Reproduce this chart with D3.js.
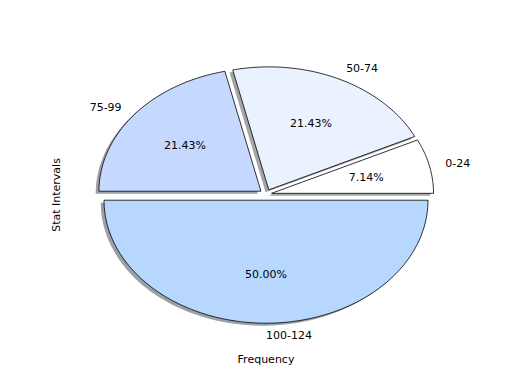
<!DOCTYPE html>
<html>
	<head>
		<meta charset="utf-8" />
		<title>Stat Intervals pie</title>
		<style>
			body { margin: 0; background: #fff; }
			#chart svg text { font-family: "DejaVu Sans", sans-serif; font-size: 11px; fill: #000; }
		</style>
	</head>
	<body>
		<div id="chart"></div>
		<script src="https://cdnjs.cloudflare.com/ajax/libs/d3/7.8.5/d3.min.js"></script>
		<script>
			var categories = ["0-24", "50-74", "75-99", "100-124"];
			var counts = [1, 3, 3, 7];
			var colors = ["#ffffff", "#eaf2ff", "#c5d9ff", "#b7d7ff"];
			var explode = [0.035, 0.04, 0.04, 0.048];
			var xLabel = "Frequency";
			var yLabel = "Stat Intervals";

			!(function(){
				var width = 520, height = 390;
				var cx = 266, cy = 194.3, rx = 162, ry = 123;

				var svg = d3.select("#chart").append("svg")
					.attr("width", width)
					.attr("height", height);

				// data units -> pixels (pie of radius 1, like matplotlib's pie axes)
				var x = d3.scaleLinear().domain([-1.25, 1.25]).range([cx - 1.25 * rx, cx + 1.25 * rx]);
				var y = d3.scaleLinear().domain([-1.25, 1.25]).range([cy + 1.25 * ry, cy - 1.25 * ry]);

				// counter-clockwise from 3 o'clock
				var pie = d3.pie().sort(null)
					.startAngle(Math.PI / 2)
					.endAngle(Math.PI / 2 - 2 * Math.PI);
				var arcs = pie(counts).map(function(d, i){
					var t0 = Math.PI / 2 - d.startAngle, t1 = Math.PI / 2 - d.endAngle;
					var tm = (t0 + t1) / 2;
					return {
						i: i, t0: t0, t1: t1, tm: tm,
						ox: explode[i] * Math.cos(tm),
						oy: explode[i] * Math.sin(tm),
						value: d.value
					};
				});
				var total = d3.sum(counts);

				function wedgePts(a, dx, dy) {
					var n = Math.max(8, Math.ceil((a.t1 - a.t0) / 0.02));
					var pts = [[a.ox + dx, a.oy + dy]];
					d3.range(n + 1).forEach(function(k){
						var t = a.t0 + (a.t1 - a.t0) * k / n;
						pts.push([a.ox + dx + Math.cos(t), a.oy + dy + Math.sin(t)]);
					});
					return pts;
				}
				var line = d3.line()
					.x(function(p){ return x(p[0]); })
					.y(function(p){ return y(p[1]); });

				function shade(c) {
					var r = d3.rgb(c);
					return d3.rgb(r.r * 0.3, r.g * 0.3, r.b * 0.3).toString();
				}

				// shadows below every wedge
				svg.append("g").selectAll("path")
					.data(arcs)
					.enter().append("path")
					.attr("d", function(a){ return line(wedgePts(a, -0.02, -0.02)) + "Z"; })
					.attr("fill", function(a){ return shade(colors[a.i]); })
					.attr("fill-opacity", 0.5)
					.attr("stroke", "none");

				svg.append("g").selectAll("path")
					.data(arcs)
					.enter().append("path")
					.attr("d", function(a){ return line(wedgePts(a, 0, 0)) + "Z"; })
					.attr("fill", function(a){ return colors[a.i]; })
					.attr("stroke", "#000")
					.attr("stroke-width", 0.8)
					.attr("stroke-linejoin", "miter");

				// category labels
				svg.append("g").selectAll("text")
					.data(arcs)
					.enter().append("text")
					.attr("x", function(a){ return x(a.ox + 1.1 * Math.cos(a.tm)); })
					.attr("y", function(a){ return y(a.oy + 1.1 * Math.sin(a.tm)); })
					.attr("dy", "0.35em")
					.attr("text-anchor", function(a){ return Math.cos(a.tm) < -1e-6 ? "end" : "start"; })
					.text(function(a){ return categories[a.i]; });

				// percentages
				svg.append("g").selectAll("text")
					.data(arcs)
					.enter().append("text")
					.attr("x", function(a){ return x(a.ox + 0.6 * Math.cos(a.tm)); })
					.attr("y", function(a){ return y(a.oy + 0.6 * Math.sin(a.tm)); })
					.attr("dy", "0.35em")
					.attr("text-anchor", "middle")
					.text(function(a){ return (100 * a.value / total).toFixed(2) + "%"; });

				svg.append("text")
					.attr("x", 266)
					.attr("y", 363)
					.attr("text-anchor", "middle")
					.text(xLabel);

				svg.append("text")
					.attr("transform", "translate(60,195) rotate(-90)")
					.attr("text-anchor", "middle")
					.text(yLabel);
			}());
		</script>
	</body>
</html>
